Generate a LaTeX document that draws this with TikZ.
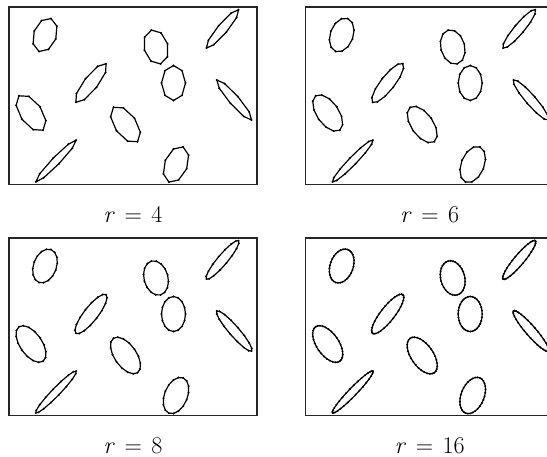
\documentclass[tikz,border=0pt]{standalone}
\usepackage{fontspec}
\usepackage{tikz}
\tikzset{
  frame/.style={draw=black!85,line width=1.1pt},
  blob/.style ={draw=black,line width=1.2pt,line join=round},
  vtx/.style  ={fill=black},
  lbl/.style  ={font=\fontsize{24}{28}\selectfont,anchor=base,inner sep=0pt},
}
% polygon with #6 corners on the ellipse: centre (#1,#2), half axes #3,#4, tilt #5
\newcommand{\ellpoly}[6]{%
  \pgfmathtruncatemacro{\ns}{#6+1}
  \draw[blob] plot[domain=0:360,samples=\ns,variable=\t]
    ({#1+#3*cos(\t)*cos(#5)-#4*sin(\t)*sin(#5)},
     {#2+#3*cos(\t)*sin(#5)+#4*sin(\t)*cos(#5)}) -- cycle;
  \foreach \k in {1,...,#6}
    \fill[vtx] ({#1+#3*cos(\k*360/#6)*cos(#5)-#4*sin(\k*360/#6)*sin(#5)},
                {#2+#3*cos(\k*360/#6)*sin(#5)+#4*sin(\k*360/#6)*cos(#5)}) circle (1.1);
}
\begin{document}
\begin{tikzpicture}[x=1pt,y=-1pt]
\useasboundingbox (0,0) rectangle (547,456);
\clip (0,0) rectangle (547,456);
\foreach \px/\py/\r/\nm in {9/7/4/pa, 305.7/7/6/pb, 9/238/8/pc, 305.7/238/16/pd}{
  \pgfmathtruncatemacro{\nv}{2*\r}
  \begin{scope}[shift={(\px,\py)}]
    \draw[frame] (0,0) rectangle (248,177.5);
    \foreach \cx/\cy/\ea/\eb/\ph in {
      36/28/17.5/11.5/-70, 147/40/17.5/12/-105, 164.5/76/17.5/12/90,
      213.5/21.9/25/5/-50, 82/76/24.5/7/-52, 22/106/21/11/55,
      116.5/117.5/21/11/55, 225.2/93/26.5/5/49, 47/154/29/4/-46,
      167/157.5/19/11.5/-68}
      {\ellpoly{\cx}{\cy}{\ea}{\eb}{\ph}{\nv}}
    \node[lbl] (\nm) at (124,215.5) {\textit{r}\hspace{0.4em}=\hspace{0.4em}\r};
  \end{scope}
}
\end{tikzpicture}
\end{document}
